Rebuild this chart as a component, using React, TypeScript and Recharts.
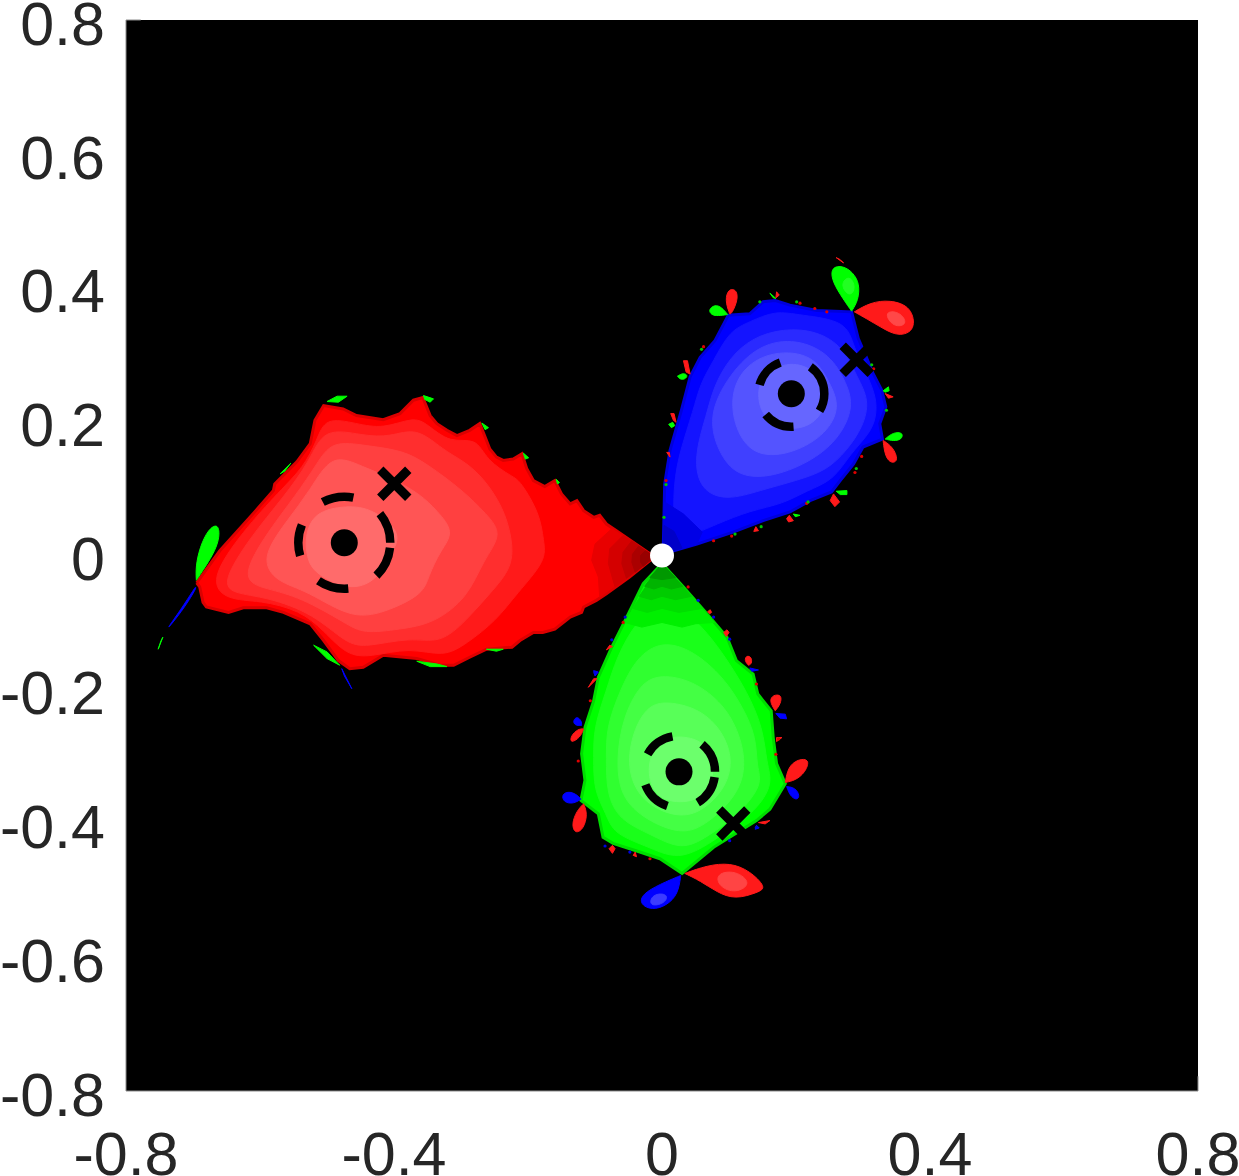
import React from "react";
import {CartesianGrid, ReferenceLine, Scatter, ScatterChart, XAxis, YAxis} from "recharts";

type Pt = [number, number];

const xTicks = [-0.8, -0.4, 0, 0.4, 0.8];
const yTicks = [-0.8, -0.6, -0.4, -0.2, 0, 0.2, 0.4, 0.6, 0.8];

// basin of the left attractor, outer edge first, then the brighter level sets
const redOutline: Pt[] = [[-0.6945,-0.041],[-0.66,0.007],[-0.615,0.057],[-0.58,0.097],[-0.578,0.107],[-0.545,0.14],[-0.525,0.167],[-0.518,0.202],[-0.505,0.224],[-0.476,0.219],[-0.456,0.209],[-0.416,0.203],[-0.391,0.212],[-0.371,0.232],[-0.357,0.236],[-0.346,0.209],[-0.336,0.197],[-0.321,0.187],[-0.306,0.179],[-0.287,0.187],[-0.272,0.197],[-0.264,0.177],[-0.257,0.159],[-0.247,0.147],[-0.237,0.142],[-0.222,0.144],[-0.209,0.152],[-0.202,0.13],[-0.192,0.112],[-0.175,0.103],[-0.16,0.112],[-0.15,0.092],[-0.137,0.077],[-0.127,0.082],[-0.117,0.067],[-0.102,0.057],[-0.093,0.06],[-0.083,0.047],[-0.068,0.037],[-0.017,0.002],[-0.015,-0.005],[-0.048,-0.032],[-0.083,-0.057],[-0.098,-0.067],[-0.117,-0.077],[-0.12,-0.085],[-0.137,-0.092],[-0.16,-0.11],[-0.178,-0.115],[-0.192,-0.115],[-0.212,-0.127],[-0.224,-0.137],[-0.262,-0.14],[-0.287,-0.152],[-0.311,-0.164],[-0.331,-0.164],[-0.366,-0.154],[-0.416,-0.149],[-0.446,-0.167],[-0.466,-0.169],[-0.483,-0.157],[-0.505,-0.127],[-0.525,-0.102],[-0.565,-0.085],[-0.59,-0.078],[-0.625,-0.078],[-0.647,-0.085],[-0.68,-0.077],[-0.685,-0.07],[-0.69,-0.047]];
const redLevel1: Pt[] = [[-0.677,-0.037],[-0.625,0.037],[-0.57,0.097],[-0.535,0.132],[-0.515,0.172],[-0.503,0.207],[-0.456,0.197],[-0.416,0.189],[-0.371,0.207],[-0.351,0.197],[-0.316,0.167],[-0.277,0.177],[-0.262,0.142],[-0.222,0.117],[-0.212,0.112],[-0.182,0.062],[-0.177,0.022],[-0.172,-0.007],[-0.217,-0.057],[-0.247,-0.097],[-0.292,-0.132],[-0.326,-0.152],[-0.376,-0.137],[-0.436,-0.152],[-0.471,-0.149],[-0.505,-0.112],[-0.54,-0.082],[-0.6,-0.067],[-0.65,-0.067]];
const redLevel2: Pt[] = [[-0.657,-0.04],[-0.615,0.027],[-0.565,0.087],[-0.525,0.142],[-0.505,0.192],[-0.446,0.179],[-0.406,0.177],[-0.366,0.192],[-0.326,0.157],[-0.297,0.142],[-0.267,0.117],[-0.237,0.072],[-0.224,0.027],[-0.222,-0.017],[-0.257,-0.057],[-0.292,-0.097],[-0.331,-0.132],[-0.376,-0.122],[-0.441,-0.137],[-0.471,-0.132],[-0.52,-0.087],[-0.59,-0.062],[-0.64,-0.057]];
const redLevel3: Pt[] = [[-0.63,-0.037],[-0.595,0.027],[-0.545,0.092],[-0.515,0.137],[-0.493,0.172],[-0.441,0.164],[-0.386,0.157],[-0.351,0.137],[-0.297,0.097],[-0.262,0.062],[-0.237,0.032],[-0.267,-0.007],[-0.289,-0.062],[-0.341,-0.102],[-0.391,-0.11],[-0.446,-0.117],[-0.471,-0.102],[-0.54,-0.062],[-0.59,-0.05]];
const redLevel4: Pt[] = [[-0.6,-0.005],[-0.56,0.052],[-0.525,0.097],[-0.493,0.154],[-0.446,0.132],[-0.406,0.117],[-0.361,0.092],[-0.336,0.067],[-0.309,0.035],[-0.331,0.007],[-0.349,-0.032],[-0.356,-0.057],[-0.406,-0.082],[-0.461,-0.097],[-0.53,-0.052],[-0.575,-0.04]];
const redLevel5: Pt[] = [[-0.533,0.027],[-0.52,0.065],[-0.471,0.075],[-0.431,0.07],[-0.386,0.032],[-0.406,0.002],[-0.421,-0.032],[-0.461,-0.055],[-0.52,-0.027],[-0.53,-0.002]];
const redTipA: Pt[] = [[-0.075,0.04],[-0.1,0.017],[-0.105,-0.007],[-0.095,-0.032],[-0.093,-0.062],[-0.015,-0.005],[-0.017,0.002]];
const redTipB: Pt[] = [[-0.058,0.03],[-0.078,0.01],[-0.08,-0.012],[-0.073,-0.037],[-0.07,-0.047],[-0.015,-0.005],[-0.017,0.002]];
const redTipC: Pt[] = [[-0.045,0.022],[-0.058,0.005],[-0.06,-0.012],[-0.053,-0.034],[-0.015,-0.005],[-0.017,0.002]];
const redTipD: Pt[] = [[-0.035,0.014],[-0.044,0.002],[-0.045,-0.01],[-0.04,-0.025],[-0.015,-0.005],[-0.017,0.002]];
const redTipE: Pt[] = [[-0.025,0.007],[-0.032,0],[-0.032,-0.01],[-0.028,-0.016],[-0.015,-0.005],[-0.017,0.002]];

const redGreenLobes: Pt[][] = [
  [[-0.695,-0.037],[-0.696,-0.017],[-0.69,0.012],[-0.677,0.04],[-0.662,0.048],[-0.66,0.027],[-0.669,0.002]],
  [[-0.5,0.23],[-0.485,0.238],[-0.47,0.238],[-0.483,0.229]],
  [[-0.356,0.239],[-0.341,0.234],[-0.346,0.229],[-0.354,0.233]],
  [[-0.269,0.198],[-0.259,0.191],[-0.264,0.188]],
  [[-0.207,0.153],[-0.199,0.146],[-0.204,0.144]],
  [[-0.158,0.114],[-0.153,0.109],[-0.156,0.107]],
  [[-0.57,0.122],[-0.554,0.138],[-0.563,0.126]],
  [[-0.52,-0.134],[-0.5,-0.144],[-0.481,-0.164],[-0.5,-0.154]],
  [[-0.366,-0.158],[-0.336,-0.162],[-0.321,-0.166],[-0.346,-0.166]],
  [[-0.262,-0.14],[-0.237,-0.14],[-0.247,-0.143]],
  [[-0.752,-0.14],[-0.745,-0.122],[-0.748,-0.128]],
];
const redBlueLobes: Pt[][] = [
  [[-0.697,-0.048],[-0.719,-0.082],[-0.739,-0.11],[-0.734,-0.105],[-0.712,-0.077],[-0.694,-0.047]],
  [[-0.478,-0.169],[-0.463,-0.199],[-0.474,-0.18]],
];

// basin of the upper attractor
const blueOutline: Pt[] = [[0.002,0.017],[0.004,0.107],[0.012,0.157],[0.029,0.217],[0.042,0.267],[0.057,0.296],[0.079,0.321],[0.099,0.359],[0.131,0.361],[0.151,0.379],[0.169,0.381],[0.191,0.374],[0.231,0.366],[0.283,0.364],[0.293,0.324],[0.303,0.301],[0.315,0.272],[0.328,0.247],[0.334,0.222],[0.325,0.197],[0.329,0.174],[0.3,0.162],[0.286,0.137],[0.266,0.112],[0.253,0.095],[0.221,0.082],[0.191,0.065],[0.151,0.052],[0.106,0.035],[0.052,0.017],[0.017,0.007]];
const blueLevel1: Pt[] = [[0.017,0.032],[0.017,0.107],[0.027,0.157],[0.047,0.217],[0.057,0.257],[0.077,0.291],[0.101,0.336],[0.131,0.349],[0.169,0.366],[0.206,0.359],[0.276,0.351],[0.286,0.311],[0.305,0.272],[0.32,0.237],[0.32,0.207],[0.31,0.182],[0.281,0.152],[0.256,0.112],[0.216,0.097],[0.181,0.077],[0.131,0.067],[0.082,0.047],[0.037,0.027]];
const blueLevel2: Pt[] = [[0.057,0.097],[0.047,0.147],[0.067,0.212],[0.077,0.252],[0.101,0.296],[0.136,0.326],[0.181,0.339],[0.231,0.336],[0.271,0.311],[0.291,0.267],[0.31,0.232],[0.3,0.192],[0.276,0.157],[0.246,0.127],[0.201,0.112],[0.146,0.097],[0.097,0.082]];
const blueLevel3: Pt[] = [[0.067,0.207],[0.101,0.272],[0.146,0.316],[0.201,0.324],[0.251,0.301],[0.276,0.257],[0.286,0.222],[0.266,0.177],[0.226,0.142],[0.166,0.117],[0.116,0.117],[0.087,0.147]];
const blueLevel4: Pt[] = [[0.101,0.237],[0.121,0.282],[0.166,0.306],[0.226,0.301],[0.251,0.257],[0.266,0.222],[0.246,0.182],[0.196,0.152],[0.141,0.147],[0.111,0.182]];
const blueLevel5: Pt[] = [[0.141,0.242],[0.151,0.272],[0.191,0.291],[0.231,0.277],[0.246,0.237],[0.236,0.202],[0.196,0.184],[0.151,0.202]];
const blueTipA: Pt[] = [[0.002,0.017],[0.004,0.08],[0.032,0.062],[0.06,0.035],[0.052,0.017],[0.017,0.007]];
const blueTipB: Pt[] = [[0.002,0.017],[0.003,0.045],[0.018,0.036],[0.03,0.011],[0.017,0.007]];

const blueGreenLobes: Pt[][] = [
  [[0.283,0.365],[0.265,0.391],[0.253,0.413],[0.253,0.431],[0.27,0.433],[0.285,0.423],[0.295,0.406],[0.293,0.381]],
  [[0.098,0.36],[0.084,0.358],[0.074,0.359],[0.069,0.367],[0.079,0.375],[0.089,0.371]],
  [[0.161,0.392],[0.166,0.385],[0.17,0.384]],
  [[0.023,0.268],[0.032,0.273],[0.039,0.269],[0.034,0.263],[0.027,0.263]],
  [[0.01,0.196],[0.016,0.199],[0.019,0.194],[0.014,0.191]],
  [[0.33,0.246],[0.338,0.252],[0.339,0.246],[0.333,0.244]],
  [[0.333,0.174],[0.345,0.184],[0.36,0.184],[0.358,0.173],[0.345,0.171]],
  [[0.26,0.096],[0.276,0.097],[0.276,0.091],[0.266,0.091]],
  [[0.196,0.062],[0.206,0.06],[0.199,0.058]],
];
const blueRedLobes: Pt[][] = [
  [[0.287,0.364],[0.311,0.378],[0.34,0.382],[0.373,0.372],[0.379,0.336],[0.353,0.327],[0.33,0.339],[0.305,0.354]],
  [[0.26,0.445],[0.271,0.437],[0.266,0.442]],
  [[0.101,0.361],[0.094,0.381],[0.099,0.399],[0.112,0.397],[0.113,0.381],[0.104,0.361]],
  [[0.171,0.394],[0.175,0.389],[0.17,0.385]],
  [[0.032,0.291],[0.038,0.291],[0.042,0.271],[0.036,0.274]],
  [[0.013,0.212],[0.018,0.212],[0.021,0.199],[0.017,0.202]],
  [[0.007,0.154],[0.011,0.154],[0.012,0.147]],
  [[0.333,0.242],[0.345,0.237],[0.338,0.235]],
  [[0.33,0.172],[0.345,0.162],[0.353,0.142],[0.343,0.137],[0.333,0.147]],
  [[0.256,0.092],[0.265,0.08],[0.258,0.073],[0.251,0.082]],
  [[0.19,0.06],[0.196,0.052],[0.189,0.05],[0.186,0.055]],
  [[0.14,0.043],[0.144,0.037],[0.137,0.036]],
];
const blueRedCore: Pt[] = [[0.33,0.365],[0.355,0.365],[0.368,0.345],[0.345,0.34]];
const blueGreenCore: Pt[] = [[0.265,0.405],[0.28,0.42],[0.29,0.4],[0.28,0.385]];
const blueSpeckRed: Pt[] = [[0.206,0.377],[0.228,0.369],[0.246,0.364],[0.062,0.312],[0.006,0.112],[0.104,0.029],[0.077,0.022],[0.298,0.148],[0.288,0.124],[0.216,0.078],[0.316,0.279]];
const blueSpeckGreen: Pt[] = [[0.201,0.379],[0.146,0.379],[0.059,0.308],[0.006,0.106],[0.003,0.057],[0.109,0.032],[0.148,0.043],[0.29,0.13],[0.218,0.08],[0.313,0.285],[0.335,0.217]];

// basin of the lower attractor
const greenOutline: Pt[] = [[0,-0.012],[0.032,-0.047],[0.067,-0.087],[0.097,-0.122],[0.111,-0.157],[0.136,-0.177],[0.143,-0.207],[0.163,-0.232],[0.166,-0.272],[0.171,-0.311],[0.184,-0.341],[0.161,-0.379],[0.141,-0.396],[0.101,-0.421],[0.077,-0.436],[0.03,-0.475],[-0.003,-0.453],[-0.033,-0.443],[-0.073,-0.43],[-0.088,-0.421],[-0.095,-0.386],[-0.121,-0.366],[-0.115,-0.336],[-0.12,-0.296],[-0.115,-0.257],[-0.102,-0.217],[-0.095,-0.182],[-0.075,-0.137],[-0.055,-0.097],[-0.028,-0.042]];
const greenLevel1: Pt[] = [[0,-0.067],[0.042,-0.087],[0.077,-0.127],[0.101,-0.162],[0.126,-0.202],[0.151,-0.257],[0.156,-0.311],[0.166,-0.341],[0.141,-0.381],[0.092,-0.416],[0.029,-0.458],[-0.018,-0.436],[-0.073,-0.416],[-0.083,-0.386],[-0.102,-0.351],[-0.102,-0.301],[-0.102,-0.257],[-0.083,-0.202],[-0.068,-0.152],[-0.038,-0.097]];
const greenLevel2: Pt[] = [[0,-0.127],[0.047,-0.142],[0.092,-0.182],[0.121,-0.227],[0.141,-0.272],[0.141,-0.316],[0.151,-0.341],[0.116,-0.386],[0.067,-0.421],[0.029,-0.441],[-0.018,-0.416],[-0.063,-0.396],[-0.083,-0.356],[-0.083,-0.301],[-0.083,-0.257],[-0.063,-0.202],[-0.038,-0.152]];
const greenLevel3: Pt[] = [[-0.003,-0.177],[0.047,-0.187],[0.092,-0.222],[0.116,-0.266],[0.126,-0.316],[0.111,-0.361],[0.062,-0.406],[0.027,-0.416],[-0.023,-0.396],[-0.063,-0.361],[-0.068,-0.301],[-0.058,-0.242],[-0.033,-0.192]];
const greenLevel4: Pt[] = [[0.002,-0.217],[0.052,-0.227],[0.087,-0.257],[0.106,-0.301],[0.097,-0.346],[0.057,-0.386],[0.017,-0.391],[-0.033,-0.366],[-0.053,-0.316],[-0.043,-0.262],[-0.023,-0.227]];
const greenLevel5: Pt[] = [[0.002,-0.269],[0.052,-0.271],[0.077,-0.296],[0.077,-0.341],[0.052,-0.369],[0.002,-0.369],[-0.02,-0.341],[-0.02,-0.301]];
const greenTipA: Pt[] = [[-0.056,-0.1],[-0.03,-0.107],[0,-0.1],[0.03,-0.107],[0.05,-0.102],[0.078,-0.1],[0,-0.012]];
const greenTipB: Pt[] = [[-0.044,-0.079],[-0.022,-0.085],[0,-0.079],[0.025,-0.085],[0.06,-0.079],[0,-0.012]];
const greenTipC: Pt[] = [[-0.034,-0.061],[-0.016,-0.066],[0,-0.061],[0.02,-0.066],[0.044,-0.061],[0,-0.012]];
const greenTipD: Pt[] = [[-0.026,-0.046],[-0.012,-0.05],[0,-0.046],[0.014,-0.05],[0.031,-0.046],[0,-0.012]];
const greenTipE: Pt[] = [[-0.018,-0.033],[0,-0.036],[0.02,-0.033],[0,-0.012]];

const greenRedLobes: Pt[][] = [
  [[0.034,-0.475],[0.067,-0.463],[0.102,-0.459],[0.131,-0.471],[0.156,-0.496],[0.144,-0.503],[0.109,-0.514],[0.082,-0.503],[0.057,-0.486]],
  [[0.184,-0.339],[0.188,-0.316],[0.203,-0.304],[0.221,-0.304],[0.214,-0.324],[0.199,-0.336]],
  [[0.169,-0.232],[0.16,-0.217],[0.166,-0.208],[0.179,-0.208],[0.177,-0.222]],
  [[0.129,-0.164],[0.123,-0.157],[0.126,-0.149],[0.134,-0.152],[0.134,-0.162]],
  [[0.096,-0.121],[0.092,-0.115],[0.097,-0.111],[0.1,-0.115]],
  [[0.071,-0.087],[0.068,-0.084],[0.072,-0.081],[0.074,-0.085]],
  [[-0.117,-0.259],[-0.122,-0.272],[-0.137,-0.281],[-0.136,-0.269],[-0.125,-0.259]],
  [[-0.117,-0.371],[-0.111,-0.386],[-0.117,-0.409],[-0.13,-0.416],[-0.135,-0.401],[-0.127,-0.381]],
  [[-0.097,-0.184],[-0.11,-0.197],[-0.102,-0.184]],
  [[-0.078,-0.134],[-0.083,-0.141],[-0.074,-0.136]],
  [[-0.074,-0.433],[-0.079,-0.438],[-0.074,-0.445],[-0.07,-0.438]],
  [[-0.04,-0.443],[-0.043,-0.448],[-0.038,-0.45]],
  [[0.144,-0.399],[0.161,-0.396],[0.154,-0.401]],
  [[0.171,-0.272],[0.179,-0.272],[0.171,-0.278]],
];
const greenBlueLobes: Pt[][] = [
  [[0.028,-0.478],[0.024,-0.506],[0.007,-0.523],[-0.015,-0.53],[-0.033,-0.521],[-0.03,-0.506],[-0.003,-0.491]],
  [[0.186,-0.345],[0.199,-0.347],[0.206,-0.359],[0.201,-0.366],[0.191,-0.359]],
  [[0.17,-0.236],[0.184,-0.237],[0.186,-0.244],[0.176,-0.243]],
  [[0.131,-0.168],[0.144,-0.171],[0.134,-0.173]],
  [[-0.12,-0.254],[-0.13,-0.254],[-0.133,-0.247],[-0.127,-0.24],[-0.12,-0.247]],
  [[-0.121,-0.364],[-0.132,-0.371],[-0.147,-0.369],[-0.15,-0.356],[-0.137,-0.352],[-0.125,-0.359]],
  [[-0.102,-0.172],[-0.095,-0.174],[-0.1,-0.18]],
  [[0.141,-0.403],[0.145,-0.407],[0.139,-0.409]],
];
const greenRedCore: Pt[] = [[0.08,-0.475],[0.11,-0.47],[0.135,-0.49],[0.11,-0.505],[0.085,-0.495]];
const greenBlueCore: Pt[] = [[-0.015,-0.505],[0.01,-0.505],[0.005,-0.52],[-0.02,-0.525]];
const greenSpeckRed: Pt[] = [[0.039,-0.047],[-0.058,-0.1],[-0.107,-0.217],[-0.125,-0.307],[0.174,-0.274],[0.141,-0.192],[-0.018,-0.453],[0.17,-0.297]];
const greenSpeckBlue: Pt[] = [[0.054,-0.067],[0.077,-0.092],[0.101,-0.125],[-0.055,-0.092],[-0.075,-0.126],[-0.1,-0.175],[-0.085,-0.434],[-0.048,-0.443],[0.101,-0.426],[0.141,-0.406]];

const attractors: Pt[] = [[-0.4742,0.019],[0.193,0.2417],[0.0254,-0.3232]];
const saddles: Pt[] = [[-0.3996,0.1072],[0.2906,0.2925],[0.1064,-0.4003]];
const origin: Pt[] = [[0,0]];
const redRing: Pt[] = [[-0.4742,0.019]];
const blueRing: Pt[] = [[0.193,0.2417]];
const greenRing: Pt[] = [[0.0254,-0.3232]];

const toRows = (pts: Pt[]) => pts.map(([x, y]) => ({x, y}));
const noMark = () => <g />;

// filled region: the scatter's own connecting line with a fill on it
const region = (key: string, pts: Pt[], color: string, smooth = false, rim?: string) => (
  <Scatter
    key={key}
    data={toRows(smooth ? pts : [...pts, pts[0]])}
    line={{fill: color, stroke: rim ?? color, strokeWidth: rim ? 3 : 1}}
    lineJointType={smooth ? "basisClosed" : "linear"}
    shape={noMark}
    isAnimationActive={false}
  />
);

// big lobes get a rounded outline, pinned at their base point
const lobes = (key: string, list: Pt[][], color: string) =>
  list.map((pts, i) =>
    pts.length > 4
      ? region(`${key}${i}`, [pts[0], pts[0], pts[0], ...pts.slice(1)], color, true)
      : region(`${key}${i}`, pts, color)
  );

const ringShape = (r: number) => (p: any) => (
  <g transform={`translate(${p.cx},${p.cy}) scale(1,-1)`}>
    <circle r={r} fill="none" stroke="#000" strokeWidth={8.5} strokeDasharray="31.5 31.5" />
  </g>
);

const dotShape = (p: any) => <circle cx={p.cx} cy={p.cy} r={13.5} fill="#000" />;
const originShape = (p: any) => <circle cx={p.cx} cy={p.cy} r={12} fill="#fff" />;
const speck = (color: string) => (p: any) => <circle cx={p.cx} cy={p.cy} r={1.6} fill={color} />;
const crossShape = (p: any) => (
  <path
    d={`M${p.cx - 14},${p.cy - 14}L${p.cx + 14},${p.cy + 14}M${p.cx - 14},${p.cy + 14}L${p.cx + 14},${p.cy - 14}`}
    stroke="#000"
    strokeWidth={9}
    fill="none"
  />
);

const tickStyle = {fontSize: 61, fontFamily: "Liberation Sans, Arial, sans-serif", fill: "#262626"};

export default function App() {
  return (
    <div style={{position: "absolute", left: 0, top: 0, width: 1239, height: 1176, background: "#fff"}}>
      <ScatterChart width={1239} height={1176} margin={{top: 20, right: 41, bottom: 0, left: 0}}>
        <CartesianGrid fill="#000" horizontal={false} vertical={false} />
        <XAxis
          type="number"
          dataKey="x"
          domain={[-0.8, 0.8]}
          ticks={xTicks}
          interval={0}
          height={85}
          tick={tickStyle}
          tickLine={false}
          tickSize={0}
          tickMargin={41}
          axisLine={{stroke: "#8c8c8c"}}
        />
        <YAxis
          type="number"
          dataKey="y"
          domain={[-0.8, 0.8]}
          ticks={yTicks}
          interval={0}
          width={126}
          tick={{...tickStyle, dy: 3}}
          tickLine={false}
          tickSize={0}
          tickMargin={21}
          axisLine={{stroke: "#8c8c8c"}}
        />
        <ReferenceLine segment={[{x: -0.8, y: 0.8}, {x: -0.778, y: 0.8}]} stroke="#8c8c8c" />
        <ReferenceLine segment={[{x: 0.8, y: -0.8}, {x: 0.8, y: -0.778}]} stroke="#8c8c8c" />

        {region("r0", redOutline, "#ff0000", false, "#dc0000")}
        {region("r1", redLevel1, "#ff1a1a", true)}
        {region("r2", redLevel2, "#ff2e2e", true)}
        {region("r3", redLevel3, "#ff4040", true)}
        {region("r4", redLevel4, "#ff5555", true)}
        {region("r5", redLevel5, "#ff6b6b", true)}
        {region("rta", redTipA, "#e80000")}
        {region("rtb", redTipB, "#d40000")}
        {region("rtc", redTipC, "#c00000")}
        {region("rtd", redTipD, "#aa0000")}
        {region("rte", redTipE, "#980000")}
        {lobes("rg", redGreenLobes, "#00ff00")}
        {lobes("rb", redBlueLobes, "#0000ff")}

        {region("b0", blueOutline, "#0000ff", false, "#0000dc")}
        {region("b1", blueLevel1, "#1414ff", true)}
        {region("b2", blueLevel2, "#2a2aff", true)}
        {region("b3", blueLevel3, "#4040ff", true)}
        {region("b4", blueLevel4, "#5454ff", true)}
        {region("b5", blueLevel5, "#6666ff", true)}
        {region("bta", blueTipA, "#0000e6")}
        {region("btb", blueTipB, "#0000c8")}
        {lobes("bg", blueGreenLobes, "#00ff00")}
        {lobes("br", blueRedLobes, "#ff1a1a")}
        {region("brc", blueRedCore, "#ff4848", true)}
        {region("bgc", blueGreenCore, "#22ff22", true)}

        {region("g0", greenOutline, "#00ff00", false, "#00dc00")}
        {region("g1", greenLevel1, "#1aff1a", true)}
        {region("g2", greenLevel2, "#30ff30", true)}
        {region("g3", greenLevel3, "#44ff44", true)}
        {region("g4", greenLevel4, "#58ff58", true)}
        {region("g5", greenLevel5, "#6cff6c", true)}
        {region("gta", greenTipA, "#00f000")}
        {region("gtb", greenTipB, "#00e000")}
        {region("gtc", greenTipC, "#00cc00")}
        {region("gtd", greenTipD, "#00b400")}
        {region("gte", greenTipE, "#009800")}
        {lobes("gr", greenRedLobes, "#ff1a1a")}
        {lobes("gb", greenBlueLobes, "#0000ff")}
        {region("grc", greenRedCore, "#ff4444", true)}
        {region("gbc", greenBlueCore, "#3c3cff", true)}

        <Scatter data={toRows(blueSpeckRed)} shape={speck("#e00000")} isAnimationActive={false} />
        <Scatter data={toRows(blueSpeckGreen)} shape={speck("#00c800")} isAnimationActive={false} />
        <Scatter data={toRows(greenSpeckRed)} shape={speck("#e00000")} isAnimationActive={false} />
        <Scatter data={toRows(greenSpeckBlue)} shape={speck("#0000e0")} isAnimationActive={false} />

        <Scatter data={toRows(redRing)} shape={ringShape(46)} isAnimationActive={false} />
        <Scatter data={toRows(blueRing)} shape={ringShape(33)} isAnimationActive={false} />
        <Scatter data={toRows(greenRing)} shape={ringShape(36)} isAnimationActive={false} />
        <Scatter data={toRows(attractors)} shape={dotShape} isAnimationActive={false} />
        <Scatter data={toRows(saddles)} shape={crossShape} isAnimationActive={false} />
        <Scatter data={toRows(origin)} shape={originShape} isAnimationActive={false} />
      </ScatterChart>
    </div>
  );
}
